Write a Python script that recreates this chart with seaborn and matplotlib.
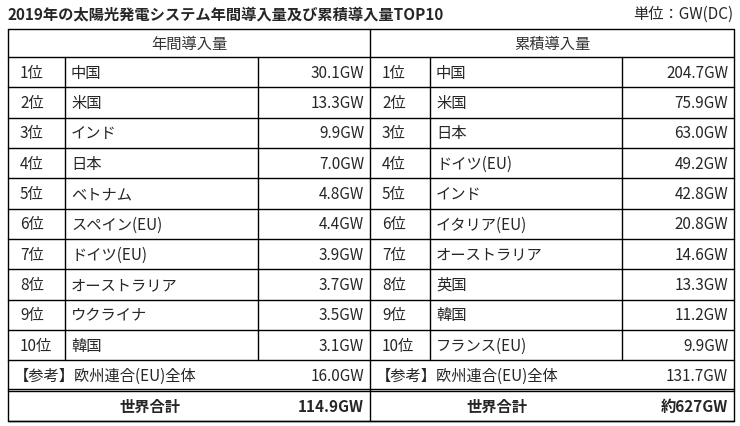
import seaborn as sns
import matplotlib.pyplot as plt

annual_names = ["中国", "米国", "インド", "日本", "ベトナム", "スペイン(EU)", "ドイツ(EU)", "オーストラリア", "ウクライナ", "韓国"]
annual_values = ["30.1GW", "13.3GW", "9.9GW", "7.0GW", "4.8GW", "4.4GW", "3.9GW", "3.7GW", "3.5GW", "3.1GW"]
cum_names = ["中国", "米国", "日本", "ドイツ(EU)", "インド", "イタリア(EU)", "オーストラリア", "英国", "韓国", "フランス(EU)"]
cum_values = ["204.7GW", "75.9GW", "63.0GW", "49.2GW", "42.8GW", "20.8GW", "14.6GW", "13.3GW", "11.2GW", "9.9GW"]
eu_values = ["16.0GW", "131.7GW"]
total_values = ["114.9GW", "約627GW"]
headers = ["年間導入量", "累積導入量"]

sns.set_style("white")
plt.rcParams['font.family'] = ['Noto Sans CJK JP', 'DejaVu Sans']

fig = plt.figure(figsize=(7.4, 4.27), dpi=100)
ax = fig.add_axes([0, 0, 1, 1])
ax.set_xlim(0, 740)
ax.set_ylim(427, 0)
ax.axis("off")

fs = 11
ax.text(8, 14, "2019年の太陽光発電システム年間導入量及び累積導入量TOP10", fontsize=fs, fontweight="bold", va="center")
ax.text(733, 14, "単位：GW(DC)", fontsize=fs, va="center", ha="right")

L, R, M = 8, 734, 370
top, hdr = 30, 58
rh = (422 - hdr) / 12
lc = "black"

# grid
ax.plot([L, R, R, L, L], [top, top, 422, 422, top], color=lc, lw=1)
ax.plot([M, M], [top, 422], color=lc, lw=1)
for i in range(13):
    y = hdr + i * rh
    ax.plot([L, R], [y, y], color=lc, lw=1)
ax.plot([L, R], [hdr + 11 * rh - 2, hdr + 11 * rh - 2], color=lc, lw=1)
for x in [65, 258, 430, 622]:
    ax.plot([x, x], [hdr, hdr + 10 * rh], color=lc, lw=1)

ax.text((L + M) / 2, (top + hdr) / 2, headers[0], fontsize=fs, ha="center", va="center", color="#333333")
ax.text((M + R) / 2, (top + hdr) / 2, headers[1], fontsize=fs, ha="center", va="center", color="#333333")

for i in range(10):
    y = hdr + (i + 0.5) * rh
    ax.text(20, y, f"{i+1}位", fontsize=fs, va="center")
    ax.text(71, y, annual_names[i], fontsize=fs, va="center")
    ax.text(364, y, annual_values[i], fontsize=fs, va="center", ha="right")
    ax.text(382, y, f"{i+1}位", fontsize=fs, va="center")
    ax.text(436, y, cum_names[i], fontsize=fs, va="center")
    ax.text(728, y, cum_values[i], fontsize=fs, va="center", ha="right")

y = hdr + 10.5 * rh
ax.text(14, y, "【参考】欧州連合(EU)全体", fontsize=fs, va="center")
ax.text(364, y, eu_values[0], fontsize=fs, va="center", ha="right")
ax.text(376, y, "【参考】欧州連合(EU)全体", fontsize=fs, va="center")
ax.text(728, y, eu_values[1], fontsize=fs, va="center", ha="right")

y = hdr + 11.5 * rh
ax.text(150, y, "世界合計", fontsize=fs, va="center", ha="center", fontweight="bold")
ax.text(364, y, total_values[0], fontsize=fs, va="center", ha="right", fontweight="bold")
ax.text(497, y, "世界合計", fontsize=fs, va="center", ha="center", fontweight="bold")
ax.text(728, y, total_values[1], fontsize=fs, va="center", ha="right", fontweight="bold")

fig.savefig("out.png", dpi=100)
